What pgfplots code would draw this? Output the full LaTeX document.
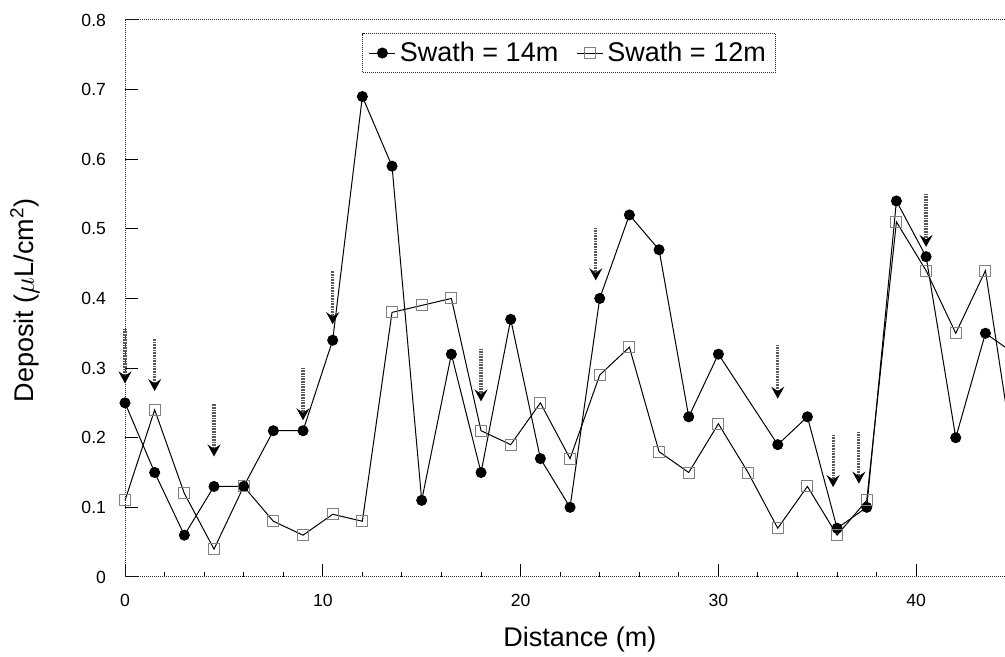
\documentclass[border=0pt]{standalone}
\usepackage{pgfplots}
\pgfplotsset{compat=1.18}
\usepackage{pgfplotstable}
\usetikzlibrary{arrows.meta}
\usepackage{fontspec}
\setmainfont{Liberation Sans}

\pgfplotstableread{
x y
0 0.25
1.5 0.15
3 0.06
4.5 0.13
6 0.13
7.5 0.21
9 0.21
10.5 0.34
12 0.69
13.5 0.59
15 0.11
16.5 0.32
18 0.15
19.5 0.37
21 0.17
22.5 0.10
24 0.40
25.5 0.52
27 0.47
28.5 0.23
30 0.32
33 0.19
34.5 0.23
36 0.07
37.5 0.10
39 0.54
40.5 0.46
42 0.20
43.5 0.35
45 0.32
}\swathA

\pgfplotstableread{
x y
0 0.11
1.5 0.24
3 0.12
4.5 0.04
6 0.13
7.5 0.08
9 0.06
10.5 0.09
12 0.08
13.5 0.38
15 0.39
16.5 0.40
18 0.21
19.5 0.19
21 0.25
22.5 0.17
24 0.29
25.5 0.33
27 0.18
28.5 0.15
30 0.22
31.5 0.15
33 0.07
34.5 0.13
36 0.06
37.5 0.11
39 0.51
40.5 0.44
42 0.35
43.5 0.44
45 0.16
}\swathB

\pgfplotstableread{
x y v
0 0.356 -0.078
1.5 0.342 -0.075
4.5 0.249 -0.076
9 0.300 -0.075
10.5 0.440 -0.077
18 0.327 -0.075
23.8 0.501 -0.075
33 0.333 -0.077
35.8 0.204 -0.075
37.1 0.208 -0.074
40.5 0.550 -0.076
}\arrowsdata

\begin{document}
\begin{tikzpicture}
\begin{axis}[
  scale only axis,
  width=454.94pt, height=278.5pt,
  xmin=0, xmax=46, ymin=0, ymax=0.8,
  clip=false,
  xtick={0,10,20,30,40},
  minor x tick num=4,
  ytick={0,0.1,0.2,0.3,0.4,0.5,0.6,0.7,0.8},
  yticklabels={0,0.1,0.2,0.3,0.4,0.5,0.6,0.7,0.8},
  tick pos=left,
  tick align=inside,
  major tick length=6.5pt,
  minor tick length=2.4pt,
  tick style={black, solid, line width=0.5pt},
  axis line style={black!85, dash pattern=on 0.5pt off 0.5pt, line width=0.5pt},
  /pgf/number format/assume math mode=true,
  tick label style={font=\fontsize{8.8}{10}\selectfont},
  xticklabel style={yshift=-5pt},
  yticklabel style={xshift=-6pt},
  xlabel={Distance (m)},
  ylabel={Deposit ($\mu$L/cm\textsuperscript{2})},
  label style={font=\fontsize{13.5}{16}\selectfont},
  xlabel style={at={(axis description cs:0.5,-0.113)}, anchor=center},
  ylabel style={at={(axis description cs:-0.11,0.497)}, anchor=center, rotate=0},
  legend style={at={(0.2609,0.976)}, anchor=north west,
    draw=black!85, dash pattern=on 0.5pt off 0.5pt,
    font=\fontsize{13.5}{16}\selectfont,
    inner xsep=3pt, inner ysep=2pt},
  legend columns=2,
  legend cell align=left,
  legend image code/.code={\draw[solid, mark repeat=2, mark phase=2] plot coordinates {(0cm,0cm) (0.23cm,0cm) (0.46cm,0cm)};},
  /tikz/every even column/.append style={column sep=7pt},
]
\addplot[black, line width=0.5pt, mark=*, mark size=2.5pt, mark options={solid, fill=black}]
  table[x=x, y=y] {\swathA};
\addlegendentry{Swath = 14m}
\addplot[black, line width=0.5pt, mark=square, mark size=2.75pt, mark options={solid, draw=black!50, fill=none}]
  table[x=x, y=y] {\swathB};
\addlegendentry{Swath = 12m}
\addplot[forget plot, no marks, black!65, line width=1.6pt, dash pattern=on 0.4pt off 0.4pt,
  -{Stealth[black, length=6pt, width=6.5pt, inset=2.2pt]},
  quiver={u=0, v=\thisrow{v}}]
  table[x=x, y=y] {\arrowsdata};
\coordinate (bbsw) at (axis cs:-6.32,-0.1149);
\coordinate (bbne) at (axis cs:44.49,0.8287);
\end{axis}
\pgfresetboundingbox
\path[use as bounding box] (bbsw) rectangle (bbne);
\end{tikzpicture}
\end{document}
